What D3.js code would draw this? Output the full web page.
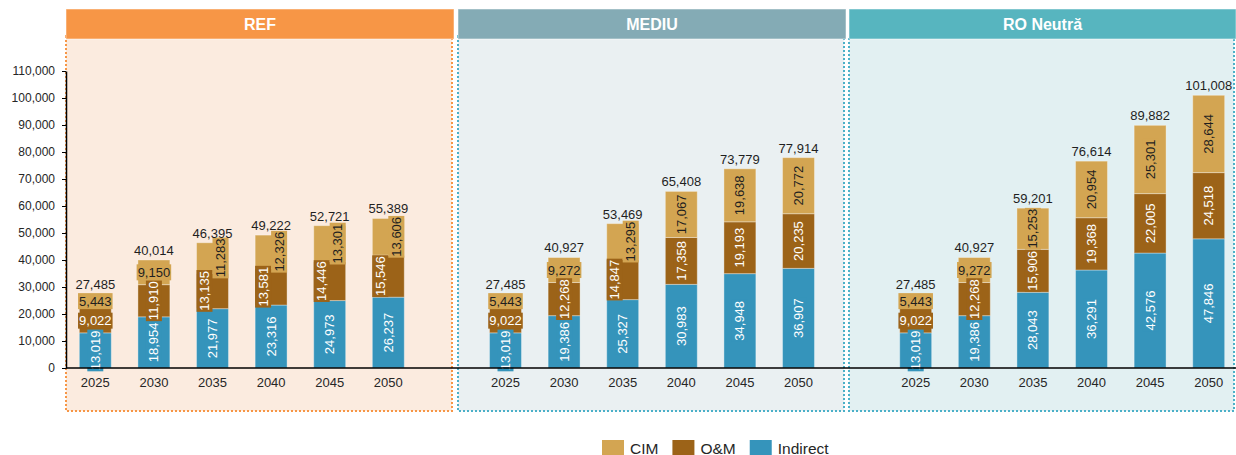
<!DOCTYPE html>
<html>
<head>
<meta charset="utf-8">
<script src="https://cdn.jsdelivr.net/npm/d3@7"></script>
<style>
  body { margin: 0; background: #fff; }
  svg { display: block; font-family: "Liberation Sans", Arial, sans-serif; }
</style>
</head>
<body>
<svg id="chart" width="1236" height="455"></svg>
<script>
// ---- data -------------------------------------------------------------
const scenarios = ["REF", "MEDIU", "RO Neutră"];
const years = ["2025", "2030", "2035", "2040", "2045", "2050"];
const seriesKeys = ["Indirect", "O&M", "CIM"];      // stacked bottom to top
const legendKeys = ["CIM", "O&M", "Indirect"];

const refIndirect = [13019, 18954, 21977, 23316, 24973, 26237];
const refOM       = [9022, 11910, 13135, 13581, 14446, 15546];
const refCIM      = [5443, 9150, 11283, 12326, 13301, 13606];
const refTotal    = [27485, 40014, 46395, 49222, 52721, 55389];

const medIndirect = [13019, 19386, 25327, 30983, 34948, 36907];
const medOM       = [9022, 12268, 14847, 17358, 19193, 20235];
const medCIM      = [5443, 9272, 13295, 17067, 19638, 20772];
const medTotal    = [27485, 40927, 53469, 65408, 73779, 77914];

const roIndirect  = [13019, 19386, 28043, 36291, 42576, 47846];
const roOM        = [9022, 12268, 15906, 19368, 22005, 24518];
const roCIM       = [5443, 9272, 15253, 20954, 25301, 28644];
const roTotal     = [27485, 40927, 59201, 76614, 89882, 101008];

const yTicks = [0, 10000, 20000, 30000, 40000, 50000, 60000, 70000, 80000, 90000, 100000, 110000];

// ---- styling ----------------------------------------------------------
const colors = { "CIM": "#D3A552", "O&M": "#9C6318", "Indirect": "#3594BB" };
const labelColors = { "CIM": "#1f1f1f", "O&M": "#ffffff", "Indirect": "#ffffff" };
const panelStyle = [
  { head: "#F79646", body: "#FBEBDF", border: "#F79646", x0: 66,  x1: 454 },
  { head: "#84ABB5", body: "#EAF0F2", border: "#4BB0C8", x0: 458, x1: 846 },
  { head: "#57B5BF", body: "#E2F0F2", border: "#4BB0C8", x0: 849, x1: 1236 }
];

// ---- table ------------------------------------------------------------
const source = {
  "REF":       { Indirect: refIndirect, "O&M": refOM, CIM: refCIM, total: refTotal },
  "MEDIU":     { Indirect: medIndirect, "O&M": medOM, CIM: medCIM, total: medTotal },
  "RO Neutră": { Indirect: roIndirect,  "O&M": roOM,  CIM: roCIM,  total: roTotal }
};
const rows = [];
const slots = [];
scenarios.forEach((s, si) => {
  years.forEach((yr, i) => {
    const key = s + "|" + yr;
    slots.push(key);
    rows.push({ key, year: yr, scenario: s,
      "Indirect": source[s].Indirect[i], "O&M": source[s]["O&M"][i], "CIM": source[s].CIM[i],
      total: source[s].total[i] });
  });
  if (si < scenarios.length - 1) slots.push("gap" + si);
});

const svg = d3.select("#chart");

const x = d3.scaleBand().domain(slots).range([66, 1238])
  .paddingInner(0.455).paddingOuter(0.2275);
const y = d3.scaleLinear().domain([0, 110000]).range([368, 71]);

// ---- panels -----------------------------------------------------------
const panels = svg.append("g");
scenarios.forEach((s, i) => {
  const p = panelStyle[i];
  panels.append("rect")
    .attr("x", p.x0).attr("y", 36).attr("width", p.x1 - p.x0 - 2).attr("height", 375)
    .attr("fill", p.body)
    .attr("stroke", p.border).attr("stroke-width", 2).attr("stroke-dasharray", "2,2");
  panels.append("rect")
    .attr("x", p.x0).attr("y", 9).attr("width", p.x1 - p.x0).attr("height", 30)
    .attr("fill", p.head).attr("stroke", "#ffffff").attr("stroke-opacity", 0.5);
  panels.append("text")
    .attr("x", (p.x0 + p.x1) / 2).attr("y", 24)
    .attr("text-anchor", "middle").attr("dominant-baseline", "central")
    .attr("fill", "#ffffff").attr("font-weight", "bold").attr("font-size", 16)
    .text(s);
});

// ---- stacked bars -----------------------------------------------------
const stacked = d3.stack().keys(seriesKeys)(rows);

const bars = svg.append("g");
stacked.forEach(layer => {
  bars.selectAll(null).data(layer).join("rect")
    .attr("x", d => x(d.data.key))
    .attr("width", x.bandwidth())
    .attr("y", d => y(d[1]))
    .attr("height", d => y(d[0]) - y(d[1]))
    .attr("fill", colors[layer.key])
    .attr("stroke", "#ffffff").attr("stroke-opacity", 0.35).attr("stroke-width", 1);
});

// ---- segment labels ---------------------------------------------------
const fmt = d3.format(",");
const labels = svg.append("g").attr("font-size", 13);
const segH = (d) => y(d[0]) - y(d[1]);

rows.forEach((row, ri) => {
  const segs = {};
  stacked.forEach(layer => { segs[layer.key] = layer[ri]; });
  const hOM = segH(segs["O&M"]), hCIM = segH(segs["CIM"]);
  const crowded = hOM >= 30 && hCIM >= 30 && (hOM + hCIM) / 2 < 41;

  seriesKeys.forEach(k => {
    const d = segs[k];
    const h = segH(d);
    const cx = x(row.key) + x.bandwidth() / 2 + (crowded ? (k === "O&M" ? -8 : k === "CIM" ? 8 : 0) : 0);
    const cy = (y(d[0]) + y(d[1])) / 2;
    const horizontal = h < 30;
    const g = labels.append("g")
      .attr("transform", `translate(${cx},${cy})` + (horizontal ? "" : " rotate(-90)"));
    const box = g.append("rect").attr("fill", colors[k]);
    const t = g.append("text")
      .attr("text-anchor", "middle").attr("dominant-baseline", "central")
      .attr("fill", labelColors[k])
      .text(fmt(row[k]));
    const w = t.node().getComputedTextLength();
    box.attr("x", -w / 2 - 1).attr("y", -8).attr("width", w + 2).attr("height", 16);
  });
});

// ---- totals -----------------------------------------------------------
svg.append("g").selectAll("text").data(rows).join("text")
  .attr("x", d => x(d.key) + x.bandwidth() / 2)
  .attr("y", d => y(d.total) - 5)
  .attr("text-anchor", "middle")
  .attr("font-size", 13).attr("fill", "#1f1f1f")
  .text(d => fmt(d.total));

// ---- axes -------------------------------------------------------------
const xAxis = svg.append("g").attr("transform", "translate(0,368)")
  .call(d3.axisBottom(x)
    .tickValues(slots.filter(s => s.indexOf("|") > 0))
    .tickFormat(s => s.split("|")[1])
    .tickSize(0).tickPadding(10));
xAxis.select(".domain").attr("stroke", "#000").attr("stroke-width", 1.5)
  .attr("d", "M66,0H1236");
xAxis.selectAll("text").attr("font-size", 13).attr("fill", "#262626")
  .attr("font-family", "Liberation Sans, Arial, sans-serif");

const yAxis = svg.append("g").attr("transform", "translate(66,0)")
  .call(d3.axisLeft(y).tickValues(yTicks).tickFormat(fmt).tickSize(4).tickSizeOuter(0).tickPadding(7));
yAxis.select(".domain").attr("stroke", "#000").attr("stroke-width", 1.5);
yAxis.selectAll(".tick line").attr("stroke", "#000");
yAxis.selectAll("text").attr("font-size", 12).attr("fill", "#262626")
  .attr("font-family", "Liberation Sans, Arial, sans-serif");

// ---- legend -----------------------------------------------------------
const legend = svg.append("g").attr("font-size", 15.5);
let lx = 602;
legendKeys.forEach(k => {
  legend.append("rect").attr("x", lx).attr("y", 440).attr("width", 22).attr("height", 16)
    .attr("fill", colors[k]);
  const t = legend.append("text").attr("x", lx + 28).attr("y", 448)
    .attr("dominant-baseline", "central").attr("fill", "#262626").text(k);
  lx += 28 + t.node().getComputedTextLength() + 14;
});
</script>
</body>
</html>
